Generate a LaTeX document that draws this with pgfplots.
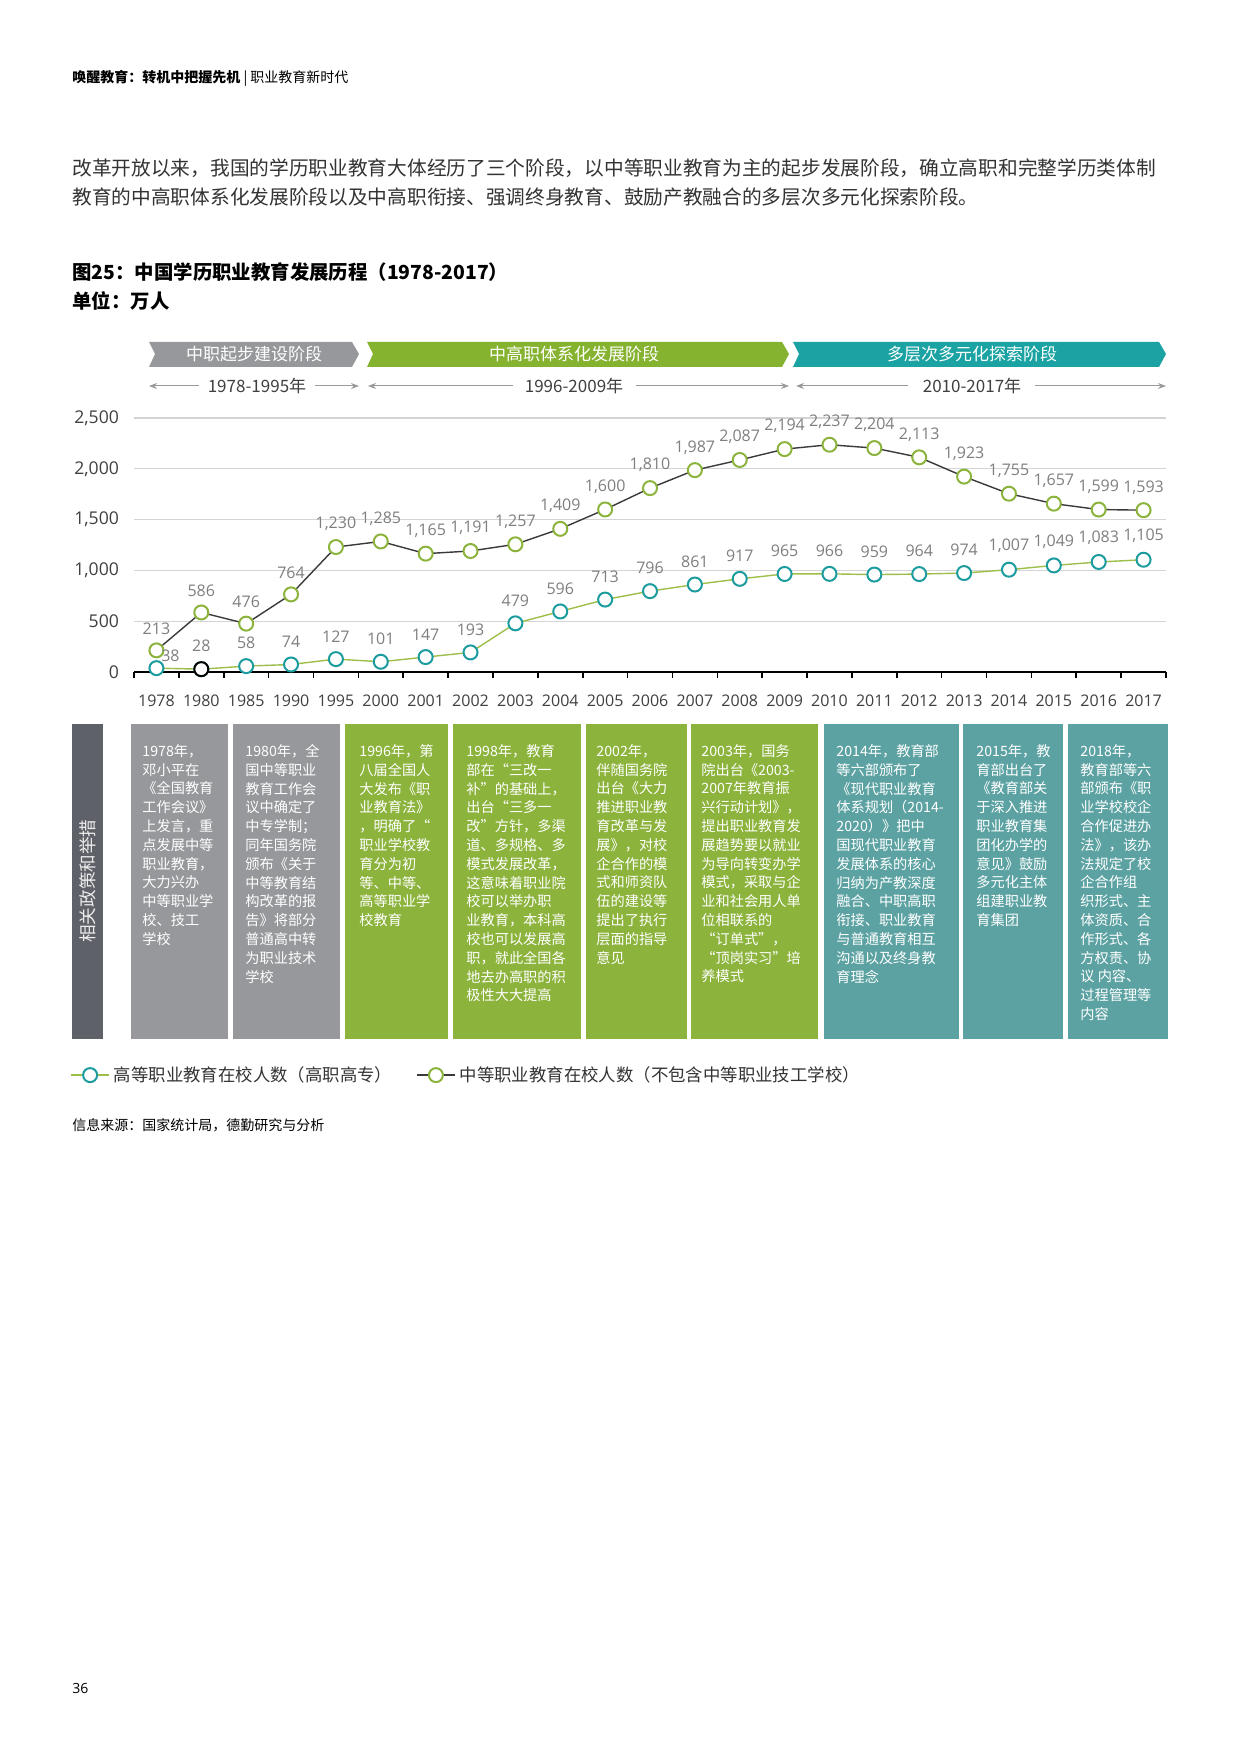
\documentclass[border=0pt]{standalone}
\usepackage{fontspec}
\usepackage{pgfplots}
\pgfplotsset{compat=1.18}
\usetikzlibrary{arrows.meta}
\setmainfont{Open Sans}
\newfontfamily\cjk{Noto Sans CJK SC}
\definecolor{dgray}{HTML}{96989B}
\definecolor{bgreen}{HTML}{86B32F}
\definecolor{boxgreen}{HTML}{8CB33C}
\definecolor{bteal}{HTML}{1BA3A3}
\definecolor{boxteal}{HTML}{5DA2A2}
\definecolor{barDark}{HTML}{5E6168}
\definecolor{txt}{HTML}{333333}
\definecolor{tickc}{HTML}{404040}
\definecolor{vlab}{HTML}{7F7F7F}
\definecolor{mgreen}{HTML}{8CB33C}
\definecolor{mteal}{HTML}{1C9C9E}
\definecolor{lgreen}{HTML}{9DBF4A}
\definecolor{ldark}{HTML}{3A3A3A}
\definecolor{gridc}{HTML}{D4D4D4}
\definecolor{arrowc}{HTML}{9A9A9A}

\pgfplotstableread{
x y
0 38
1 28
2 58
3 74
4 127
5 101
6 147
7 193
8 479
9 596
10 713
11 796
12 861
13 917
14 965
15 966
16 959
17 964
18 974
19 1007
20 1049
21 1083
22 1105
}\higher

\pgfplotstableread{
x y
0 213
1 586
2 476
3 764
4 1230
5 1285
6 1165
7 1191
8 1257
9 1409
10 1600
11 1810
12 1987
13 2087
14 2194
15 2237
16 2204
17 2113
18 1923
19 1755
20 1657
21 1599
22 1593
}\secondary

\begin{document}
\begin{tikzpicture}
\begin{scope}[x=0.5pt,y=-0.5pt]
\fill[white] (0,0) rectangle (1240,1754);
% header
\node[anchor=west, inner sep=0, text=black, font=\cjk\fontsize{7pt}{8pt}\selectfont] at (72,78) {\textbf{唤醒教育：转机中把握先机}\ |\ 职业教育新时代};
% body
\node[anchor=west, inner sep=0, text=txt, font=\cjk\fontsize{9.85pt}{12pt}\selectfont] at (72,168) {改革开放以来，我国的学历职业教育大体经历了三个阶段，以中等职业教育为主的起步发展阶段，确立高职和完整学历类体制};
\node[anchor=west, inner sep=0, text=txt, font=\cjk\fontsize{9.85pt}{12pt}\selectfont] at (72,197) {教育的中高职体系化发展阶段以及中高职衔接、强调终身教育、鼓励产教融合的多层次多元化探索阶段。};
% title
\node[anchor=west, inner sep=0, text=black, font=\cjk\bfseries\fontsize{9.7pt}{11pt}\selectfont] at (72,272) {图25：中国学历职业教育发展历程（1978-2017）};
\node[anchor=west, inner sep=0, text=black, font=\cjk\bfseries\fontsize{9.7pt}{11pt}\selectfont] at (72,301) {单位：万人};
% banners
\fill[dgray] (149,342) -- (352,342) -- (359,354) -- (352,367) -- (149,367) -- (155,354) -- cycle;
\fill[bgreen] (367,342) -- (782,342) -- (789,354) -- (782,367) -- (367,367) -- (373,354) -- cycle;
\fill[bteal] (793,342) -- (1159,342) -- (1166,354) -- (1159,367) -- (793,367) -- (799,354) -- cycle;
\node[text=white, font=\cjk\fontsize{8.5pt}{10pt}\selectfont] at (254,354) {中职起步建设阶段};
\node[text=white, font=\cjk\fontsize{8.5pt}{10pt}\selectfont] at (574,354) {中高职体系化发展阶段};
\node[text=white, font=\cjk\fontsize{8.5pt}{10pt}\selectfont] at (972,354) {多层次多元化探索阶段};
% year ranges
\begin{scope}[arrowc, line width=0.5pt, -{Stealth[length=4pt,width=3pt]}]
\draw (199,386) -- (149,386);
\draw (315,386) -- (359,386);
\draw (513,386) -- (368,386);
\draw (636,386) -- (789,386);
\draw (908,386) -- (796,386);
\draw (1035,386) -- (1166,386);
\end{scope}
\node[text=tickc, font=\cjk\fontsize{8.5pt}{10pt}\selectfont] at (257,386) {1978-1995年};
\node[text=tickc, font=\cjk\fontsize{8.5pt}{10pt}\selectfont] at (574,386) {1996-2009年};
\node[text=tickc, font=\cjk\fontsize{8.5pt}{10pt}\selectfont] at (972,386) {2010-2017年};
% policy boxes
\fill[barDark] (72,724) rectangle (103,1039);
\node[rotate=90, text=white!85!gray, font=\cjk\fontsize{8.8pt}{10pt}\selectfont] at (87.5,881) {相关政策和举措};
\fill[dgray] (131,724) rectangle (228,1039);
\fill[dgray] (233,724) rectangle (340,1039);
\fill[boxgreen] (345,724) rectangle (448,1039);
\fill[boxgreen] (453,724) rectangle (581,1039);
\fill[boxgreen] (586,724) rectangle (687,1039);
\fill[boxgreen] (691,724) rectangle (818,1039);
\fill[boxteal] (824,724) rectangle (959,1039);
\fill[boxteal] (963,724) rectangle (1063,1039);
\fill[boxteal] (1068,724) rectangle (1168,1039);
\tikzset{boxtxt/.style={anchor=north west, inner sep=0, align=left, text=white, font=\cjk\fontsize{7.1pt}{9.4pt}\selectfont}}
\node[boxtxt] at (142,744) {1978年，\\邓小平在\\《全国教育\\工作会议》\\上发言，重\\点发展中等\\职业教育，\\大力兴办\\中等职业学\\校、技工\\学校};
\node[boxtxt] at (245,744) {1980年，全\\国中等职业\\教育工作会\\议中确定了\\中专学制；\\同年国务院\\颁布《关于\\中等教育结\\构改革的报\\告》将部分\\普通高中转\\为职业技术\\学校};
\node[boxtxt] at (359,744) {1996年，第\\八届全国人\\大发布《职\\业教育法》\\，明确了“\\职业学校教\\育分为初\\等、中等、\\高等职业学\\校教育};
\node[boxtxt] at (466,744) {1998年，教育\\部在“三改一\\补”的基础上，\\出台“三多一\\改”方针，多渠\\道、多规格、多\\模式发展改革，\\这意味着职业院\\校可以举办职\\业教育，本科高\\校也可以发展高\\职，就此全国各\\地去办高职的积\\极性大大提高};
\node[boxtxt] at (596,744) {2002年，\\伴随国务院\\出台《大力\\推进职业教\\育改革与发\\展》，对校\\企合作的模\\式和师资队\\伍的建设等\\提出了执行\\层面的指导\\意见};
\node[boxtxt] at (701,744) {2003年，国务\\院出台《2003-\\2007年教育振\\兴行动计划》，\\提出职业教育发\\展趋势要以就业\\为导向转变办学\\模式，采取与企\\业和社会用人单\\位相联系的\\“订单式”，\\“顶岗实习”培\\养模式};
\node[boxtxt] at (836,744) {2014年，教育部\\等六部颁布了\\《现代职业教育\\体系规划（2014-\\2020）》把中\\国现代职业教育\\发展体系的核心\\归纳为产教深度\\融合、中职高职\\衔接、职业教育\\与普通教育相互\\沟通以及终身教\\育理念};
\node[boxtxt] at (976,744) {2015年，教\\育部出台了\\《教育部关\\于深入推进\\职业教育集\\团化办学的\\意见》鼓励\\多元化主体\\组建职业教\\育集团};
\node[boxtxt] at (1080,744) {2018年，\\教育部等六\\部颁布《职\\业学校校企\\合作促进办\\法》，该办\\法规定了校\\企合作组\\织形式、主\\体资质、合\\作形式、各\\方权责、协\\议 内容、\\过程管理等\\内容};
% source and page number
\node[anchor=west, inner sep=0, text=black, font=\cjk\fontsize{7pt}{8pt}\selectfont] at (72,1125) {信息来源：国家统计局，德勤研究与分析};
\node[anchor=west, inner sep=0, text=black, font=\fontsize{7pt}{8pt}\selectfont] at (72,1688) {36};
\end{scope}

\begin{axis}[
  at={(67pt,-336pt)}, anchor=south west,
  scale only axis, width=516pt, height=127pt,
  xmin=-0.5, xmax=22.5, ymin=0, ymax=2500,
  axis lines=left, axis line style={-},
  y axis line style={draw=none},
  x axis line style={black, line width=1.4pt},
  xtick={0,...,22},
  xticklabels={1978,1980,1985,1990,1995,2000,2001,2002,2003,2004,2005,2006,2007,2008,2009,2010,2011,2012,2013,2014,2015,2016,2017},
  minor xtick={-0.5,0.5,...,22.5},
  major tick length=0pt, minor tick length=3pt, tick align=outside,
  minor x tick style={black, line width=0.8pt},
  ytick={0,500,...,2500},
  ymajorgrids, major grid style={gridc, line width=0.6pt},
  scaled y ticks=false,
  /pgf/number format/assume math mode=true,
  /pgf/number format/1000 sep={,},
  ticklabel style={text=tickc},
  yticklabel style={xshift=-4pt, font=\fontsize{8.8pt}{10pt}\selectfont},
  xticklabel style={yshift=-8pt, font=\fontsize{8pt}{9pt}\selectfont},
  clip=false,
  legend style={draw=none, fill=none, at={(-0.062,-1.587)}, anchor=west, inner sep=0pt,
    legend columns=2, font=\cjk\fontsize{8.7pt}{10pt}\selectfont, text=txt,
    /tikz/every even column/.append style={column sep=10pt}},
  legend cell align=left,
  legend image code/.code={\draw[mark repeat=2,mark phase=2,#1] plot coordinates {(0pt,0pt) (9.5pt,0pt) (19pt,0pt)};},
]
\addplot[lgreen, line width=0.7pt, mark=*, mark size=3.5pt, mark options={draw=mteal, fill=white, line width=1pt}] table[x=x,y=y] {\higher};
\addlegendentry{高等职业教育在校人数（高职高专）}
\addplot[ldark, line width=0.7pt, mark=*, mark size=3.5pt, mark options={draw=mgreen, fill=white, line width=1pt}] table[x=x,y=y] {\secondary};
\addlegendentry{中等职业教育在校人数（不包含中等职业技工学校）}
\addplot[forget plot, only marks, mark=*, mark size=3.5pt, mark options={draw=black, fill=white, line width=1pt}] coordinates {(1,28)};
% value labels
\addplot[forget plot, draw=none, mark=none, nodes near coords, skip coords between index={0}{1},
  nodes near coords style={font=\fontsize{8pt}{9pt}\selectfont, text=vlab, anchor=south, yshift=5pt}] table[x=x,y=y] {\higher};
\addplot[forget plot, draw=none, mark=none, nodes near coords,
  nodes near coords style={font=\fontsize{8pt}{9pt}\selectfont, text=vlab, anchor=center, xshift=7pt, yshift=6pt}] coordinates {(0,38)};
\addplot[forget plot, draw=none, mark=none, nodes near coords,
  nodes near coords style={font=\fontsize{8pt}{9pt}\selectfont, text=vlab, anchor=south, yshift=4.5pt}] table[x=x,y=y] {\secondary};
\end{axis}
\end{tikzpicture}
\end{document}
